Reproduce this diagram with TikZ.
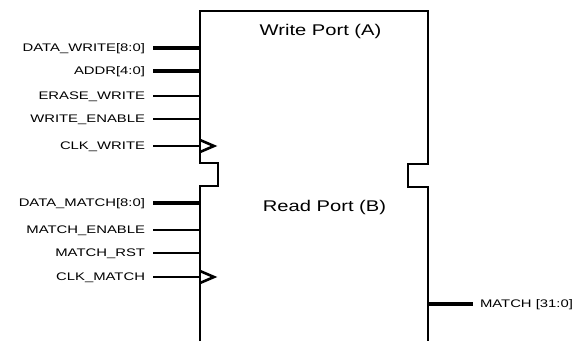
\documentclass[tikz,border=0pt]{standalone}
\usepackage{fontspec}
\setmainfont{Liberation Sans}
\newfontfamily\pinfont[FakeStretch=1.35]{Liberation Sans}
\newfontfamily\portfont[FakeStretch=1.3]{Liberation Sans}
\usepackage{tikz}
\usetikzlibrary{positioning}
\tikzset{
  pinlabel/.style={
    anchor=east,
    inner sep=0pt,
    outer xsep=8pt,
    text height=7.9pt,
    text depth=0pt,
    font=\pinfont\fontsize{11pt}{13pt}\selectfont
  },
  outlabel/.style={
    pinlabel,
    anchor=west,
    outer xsep=7pt
  },
  portname/.style={
    inner sep=0pt,
    font=\portfont\fontsize{15.5pt}{18pt}\selectfont
  },
  wire/.style={line width=1.8pt},
  bus/.style={line width=3.5pt},
  blockline/.style={line width=2.6pt, line join=miter}
}

\begin{document}
\begin{tikzpicture}[x=1pt, y=-1pt]
  \useasboundingbox (0,0) rectangle (583,341);

  % block outline with the two notches between the ports
  \draw[blockline] (200,341) -- (200,186) -- (218,186) -- (218,163) -- (200,163)
    -- (200,11) -- (428,11) -- (428,164) -- (408,164) -- (408,187) -- (428,187)
    -- (428,341);

  \node[portname] (wport) at (320.5,31) {Write Port (A)};
  \node[portname] (rport) at (324.5,207) {Read Port (B)};

  % pins on the block
  \coordinate (pdatawr) at (200,48);
  \coordinate (paddr) at (200,71);
  \coordinate (perase) at (200,96);
  \coordinate (pwren) at (200,119);
  \coordinate (pclkwr) at (200,146);
  \coordinate (pdatamt) at (200,203);
  \coordinate (pmten) at (200,230);
  \coordinate (pmtrst) at (200,253);
  \coordinate (pclkmt) at (200,277);
  \coordinate (pmatch) at (428,304);

  \node[pinlabel] (datawr) at (153,48) {DATA\_WRITE[8:0]};
  \node[pinlabel] (addr) at (153,71) {ADDR[4:0]};
  \node[pinlabel] (erase) at (153,96) {ERASE\_WRITE};
  \node[pinlabel] (wren) at (153,119) {WRITE\_ENABLE};
  \node[pinlabel] (clkwr) at (153,146) {CLK\_WRITE};
  \node[pinlabel] (datamt) at (153,203) {DATA\_MATCH[8:0]};
  \node[pinlabel] (mten) at (153,230) {MATCH\_ENABLE};
  \node[pinlabel] (mtrst) at (153,253) {MATCH\_RST};
  \node[pinlabel] (clkmt) at (153,277) {CLK\_MATCH};
  \node[outlabel] (match) at (473,304) {MATCH [31:0]};

  \draw[bus] (datawr.east) -- (pdatawr);
  \draw[bus] (addr.east) -- (paddr);
  \draw[wire] (erase.east) -- (perase);
  \draw[wire] (wren.east) -- (pwren);
  \draw[wire] (clkwr.east) -- (pclkwr);
  \draw[bus] (datamt.east) -- (pdatamt);
  \draw[wire] (mten.east) -- (pmten);
  \draw[wire] (mtrst.east) -- (pmtrst);
  \draw[wire] (clkmt.east) -- (pclkmt);
  \draw[bus] (pmatch) -- (match.west);

  % clock inputs
  \draw[blockline] (pclkwr) ++(0,-6) -- ++(14,6) -- ++(-14,6);
  \draw[blockline] (pclkmt) ++(0,-6) -- ++(14,6) -- ++(-14,6);
\end{tikzpicture}
\end{document}
